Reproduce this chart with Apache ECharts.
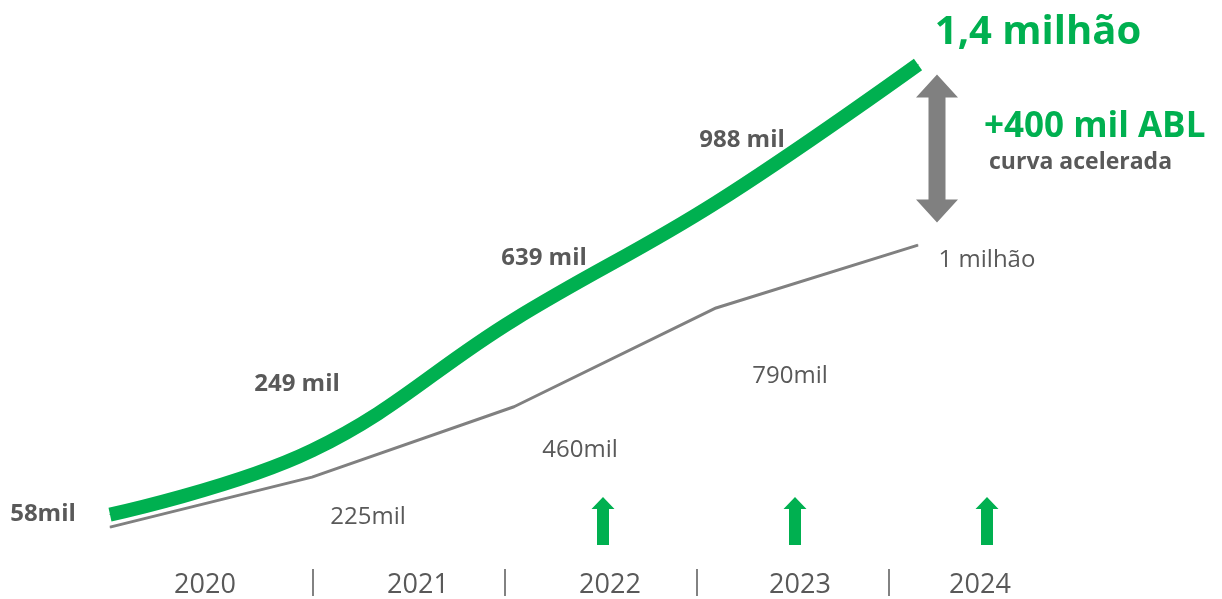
<!DOCTYPE html>
<html lang="pt">

<head>
  <meta charset="UTF-8">
  <title>ABL</title>
  <style>
    html,
    body {
      margin: 0;
      height: 100%;
      width: 100%;
      background: #fff;
    }
  </style>
</head>

<body>
  <div id="chart" style="width:1222px;height:599px"></div>
  <script src="https://cdn.jsdelivr.net/npm/echarts@6/dist/echarts.min.js"></script>
  <script>
    const years = ['2020', '2021', '2022', '2023', '2024']
    const aceleradaValues = [58, 249, 639, 988, 1400]
    const aceleradaLabels = ['58mil', '249 mil', '639 mil', '988 mil', '1,4 milhão']
    const anteriorValues = [58, 225, 460, 790, 1000]
    const anteriorLabels = ['', '225mil', '460mil', '790mil', '1 milhão']
    const arrowYears = ['2022', '2023', '2024']

    const green = '#00b050'
    const grey = '#595959'
    const font = '"Open Sans", sans-serif'

    // where each label sits relative to its point
    const greenOffsets = [[-67, 0], [-15, -66], [30, -62], [26, -63], [120, -32]]
    const greyOffsets = [[0, 0], [56, 40], [66, 43], [74, 68], [69, 15]]
    // small nudges of the year labels (px)
    const yearShift = [-12, 9, 9, 7, -5]

    const greenData = aceleradaValues.map((v, i) => ({
      value: v,
      label: {
        offset: greenOffsets[i],
        fontSize: i === 4 ? 40 : 24,
        color: i === 4 ? green : grey
      }
    }))
    const greyData = anteriorValues.map((v, i) => ({
      value: v,
      label: { offset: greyOffsets[i] }
    }))

    const yearRich = {}
    yearShift.forEach((d, i) => {
      yearRich['y' + i] = {
        fontSize: 27,
        color: grey,
        fontFamily: font,
        padding: d > 0 ? [0, 0, 0, 2 * d] : [0, -2 * d, 0, 0]
      }
    })

    const doubleArrow = 'path://M21 0 L42 23 L29.5 23 L29.5 125 L42 125 L21 148 L0 125 L12.5 125 L12.5 23 L0 23 Z'
    const upArrow = 'path://M11.5 0 L23 12 L17.5 12 L17.5 48 L5.5 48 L5.5 12 L0 12 Z'

    const option = {
      animation: false,
      textStyle: { fontFamily: font },
      grid: [
        { left: 110, right: 304, top: 31, height: 503 },
        { left: 121, right: 141, top: 569, height: 27 }
      ],
      xAxis: [{
        type: 'category',
        gridIndex: 0,
        data: years,
        boundaryGap: false,
        show: false
      }, {
        type: 'category',
        gridIndex: 1,
        data: years,
        axisLine: { show: false },
        axisTick: { show: false },
        axisLabel: {
          inside: true,
          margin: -3,
          formatter: (v, i) => '{y' + i + '|' + v + '}',
          rich: yearRich
        },
        splitLine: {
          show: true,
          showMinLine: false,
          showMaxLine: false,
          lineStyle: { color: grey, width: 1.5 }
        }
      }],
      yAxis: [{
        type: 'value',
        gridIndex: 0,
        min: 0,
        max: 1500,
        show: false
      }, {
        type: 'value',
        gridIndex: 0,
        min: 35,
        max: 1715,
        show: false
      }, {
        type: 'value',
        gridIndex: 1,
        min: 0,
        max: 1,
        show: false
      }],
      series: [{
        name: 'anterior',
        type: 'line',
        xAxisIndex: 0,
        yAxisIndex: 1,
        z: 2,
        symbol: 'circle',
        symbolSize: 1,
        itemStyle: { color: '#808080' },
        lineStyle: { color: '#808080', width: 3 },
        label: {
          show: true,
          position: 'inside',
          formatter: p => anteriorLabels[p.dataIndex],
          fontSize: 24,
          color: grey,
          fontFamily: font
        },
        data: greyData
      }, {
        name: 'acelerada',
        type: 'line',
        xAxisIndex: 0,
        yAxisIndex: 0,
        z: 3,
        smooth: 0.4,
        symbol: 'circle',
        symbolSize: 1,
        itemStyle: { color: green },
        lineStyle: { color: green, width: 14 },
        label: {
          show: true,
          position: 'inside',
          formatter: p => aceleradaLabels[p.dataIndex],
          fontWeight: 'bold',
          fontFamily: font
        },
        data: greenData
      }, {
        name: 'diferença',
        type: 'scatter',
        xAxisIndex: 0,
        yAxisIndex: 0,
        z: 4,
        symbol: doubleArrow,
        symbolSize: [42, 148],
        symbolOffset: [19, 17],
        itemStyle: { color: '#808080', opacity: 1 },
        label: {
          show: true,
          position: 'right',
          distance: 26,
          offset: [0, -7],
          opacity: 1,
          formatter: '{a|+400 mil ABL}\n{b|curva acelerada}',
          rich: {
            a: { fontSize: 35, fontWeight: 'bold', color: green, lineHeight: 42, fontFamily: font },
            b: { fontSize: 23, fontWeight: 'bold', color: grey, lineHeight: 30, padding: [0, 0, 0, 5], fontFamily: font }
          }
        },
        data: [[years[4], (aceleradaValues[4] + anteriorValues[4]) / 2]]
      }, {
        name: 'crescimento',
        type: 'scatter',
        xAxisIndex: 1,
        yAxisIndex: 2,
        symbol: upArrow,
        symbolSize: [23, 48],
        symbolOffset: [2, -48],
        itemStyle: { color: green, opacity: 1 },
        data: arrowYears.map(y => [y, 1])
      }]
    }

    const myChart = echarts.init(document.getElementById('chart'))
    myChart.setOption(option)
  </script>
</body>

</html>
